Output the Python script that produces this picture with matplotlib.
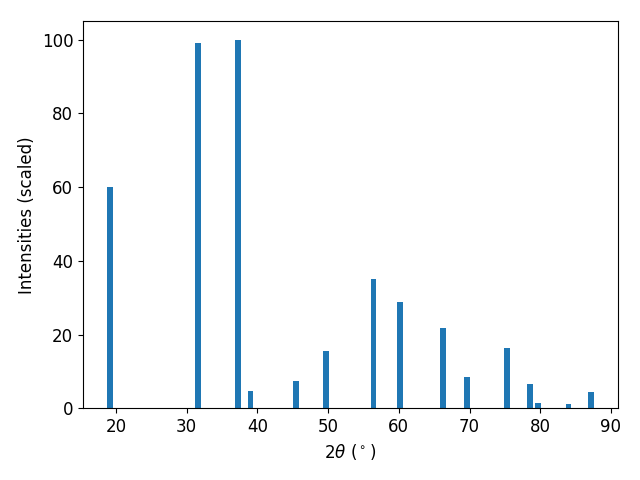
import matplotlib
matplotlib.use("Agg")
import matplotlib.pyplot as plt

two_theta = [19.18, 31.62, 37.30, 39.04, 45.42, 49.73, 56.44, 60.18, 66.26,
             69.65, 75.30, 78.55, 79.68, 83.98, 87.16]
intensity = [60.1, 99.0, 100.0, 4.8, 7.5, 15.6, 35.1, 28.9, 21.9,
             8.5, 16.4, 6.6, 1.5, 1.2, 4.5]

plt.rcParams['font.size'] = 12
fig, ax = plt.subplots(figsize=(6.4, 4.8), dpi=100)
ax.bar(two_theta, intensity, width=0.8)
ax.set_xlabel(r"$2\theta$ ($^\circ$)")
ax.set_ylabel("Intensities (scaled)")
fig.subplots_adjust(left=0.1297, right=0.9656, top=0.956, bottom=0.149)
fig.savefig("out.png")
